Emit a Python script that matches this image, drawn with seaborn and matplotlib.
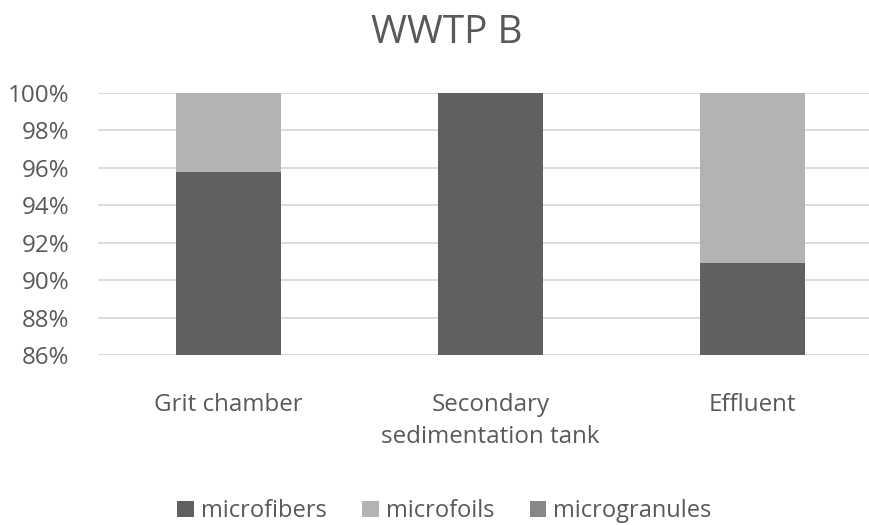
import matplotlib
matplotlib.use("Agg")
import matplotlib.pyplot as plt
import seaborn as sns
import pandas as pd
from matplotlib.patches import Patch
from matplotlib.ticker import FuncFormatter

categories = ["Grit chamber", "Secondary\nsedimentation tank", "Effluent"]
microfibers = [95.8, 100.0, 90.9]
microfoils = [4.2, 0.0, 9.1]
microgranules = [0.0, 0.0, 0.0]
series_names = ["microfibers", "microfoils", "microgranules"]
colors = ["#606060", "#b3b3b3", "#878787"]

sns.set_theme(style="white")
plt.rcParams["font.family"] = ["Open Sans", "DejaVu Sans"]

df = pd.DataFrame({
    "category": categories,
    "microfibers": microfibers,
    "microfoils": microfoils,
    "microgranules": microgranules,
})
# cumulative shares, drawn from the top layer down
df["top_granules"] = (df["microfibers"] + df["microfoils"] + df["microgranules"]) / 100
df["top_foils"] = (df["microfibers"] + df["microfoils"]) / 100
df["top_fibers"] = df["microfibers"] / 100

fig = plt.figure(figsize=(8.7, 5.25), dpi=100)
ax = fig.add_axes([0.1121, 0.3238, 0.9034, 0.499])

for col, c in zip(["top_granules", "top_foils", "top_fibers"], colors[::-1]):
    sns.barplot(data=df, x="category", y=col, color=c, width=0.40,
                saturation=1, linewidth=0, edgecolor="none", ax=ax, zorder=3)

ax.set_ylim(0.86, 1.0)
ax.set_yticks([0.86, 0.88, 0.90, 0.92, 0.94, 0.96, 0.98, 1.00])
ax.yaxis.set_major_formatter(FuncFormatter(lambda v, p: f"{v*100:.0f}%"))
ax.grid(axis="y", color="#d9d9d9", linewidth=1.3, zorder=0)
ax.set_axisbelow(True)
for s in ax.spines.values():
    s.set_visible(False)
ax.set_xlabel("")
ax.set_ylabel("")
ax.tick_params(axis="y", labelsize=17.4, labelcolor="#595959", length=0, pad=20)
ax.tick_params(axis="x", labelsize=17.4, labelcolor="#595959", length=0, pad=27)
for t in ax.get_xticklabels():
    t.set_linespacing(1.45)
    t.set_verticalalignment("top")

fig.text(0.513, 0.938, "WWTP B", fontsize=28, color="#595959",
         ha="center", va="center")

handles = [Patch(facecolor=c, edgecolor="none") for c in colors]
fig.legend(handles, series_names, loc="center", ncol=3, frameon=False,
           bbox_to_anchor=(0.511, 0.026), fontsize=17, labelcolor="#595959",
           handlelength=0.7, handleheight=0.7, handletextpad=0.3, columnspacing=1.5)

fig.savefig("out.png", dpi=100)
